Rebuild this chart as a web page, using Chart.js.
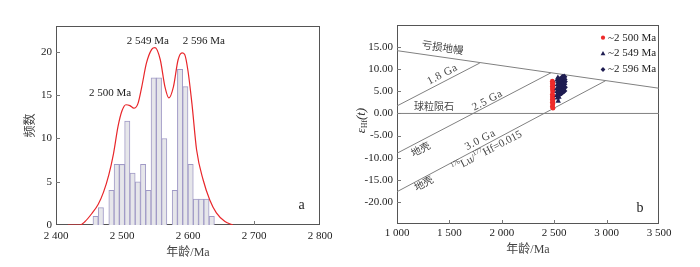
<!DOCTYPE html>
<html lang="zh">
<head>
<meta charset="UTF-8" />
<title>锆石U-Pb年龄与Hf同位素</title>
<script src="https://cdn.jsdelivr.net/npm/chart.js@4"></script>
<style>
  * { margin: 0; padding: 0; box-sizing: border-box; }
  body { width: 700px; height: 267px; background: #fff; overflow: hidden; position: relative; }
  .panel { position: absolute; top: 0; width: 350px; height: 267px; }
  #left { left: 0; }
  #right { left: 350px; }
</style>
</head>
<body>
<div class="panel" id="left"><canvas id="ageHist"></canvas></div>
<div class="panel" id="right"><canvas id="hfPlot"></canvas></div>
<script>
// ---------- panel a : age histogram + density curve ----------
const binCenters = [2460, 2468, 2476, 2484, 2492, 2500, 2508, 2516, 2524, 2532, 2540, 2548,
                    2556, 2564, 2572, 2580, 2588, 2596, 2604, 2612, 2620, 2628, 2636];
const binCounts  = [1, 2, 0, 4, 7, 7, 12, 6, 5, 7, 4, 17,
                    17, 10, 0, 4, 18, 16, 7, 3, 3, 3, 1];
const kdeAges = [2418, 2436, 2444, 2454, 2464, 2472, 2480, 2487, 2494, 2500, 2506, 2512, 2518,
                 2524, 2530, 2537, 2545, 2550, 2558, 2565, 2571, 2578, 2585, 2591, 2595, 2600,
                 2606, 2613, 2623, 2633, 2643, 2656, 2668];
const kdeFreq = [0, 0, 0.4, 1.3, 2.4, 3.8, 5.8, 8.2, 11.4, 13.2, 13.9, 13.8, 13.5,
                 14.0, 16.0, 18.7, 20.3, 20.5, 19.1, 16.0, 14.7, 16.0, 19.1, 19.9, 19.7, 17.8,
                 14.0, 8.7, 5.2, 2.9, 1.4, 0.4, 0];
const ageTicks  = [2400, 2500, 2600, 2700, 2800];
const freqTicks = [0, 5, 10, 15, 20];

// ---------- panel b : eHf(t) vs age ----------
const grp2500Age = [2482, 2488, 2482, 2488, 2482, 2488, 2482, 2488, 2485, 2482, 2488, 2482,
                    2488, 2482, 2488, 2482, 2488, 2485, 2482, 2488];
const grp2500Eps = [7.3, 7.0, 6.7, 6.4, 6.1, 5.8, 5.5, 5.2, 4.9, 4.3, 4.0, 3.7,
                    3.4, 3.1, 2.8, 2.5, 2.2, 1.9, 1.5, 1.2];
const grp2549Age = [2538, 2530, 2545, 2527, 2550, 2535, 2528, 2548, 2525, 2540, 2552, 2530,
                    2545, 2535, 2528, 2550, 2535];
const grp2549Eps = [2.8, 3.5, 3.7, 4.1, 4.3, 4.6, 5.0, 5.2, 5.6, 5.9, 6.2, 6.5,
                    6.8, 7.2, 7.6, 7.7, 8.1];
const grp2596Age = [2560, 2578, 2595, 2568, 2588, 2600, 2560, 2580, 2595, 2570, 2590, 2600,
                    2565, 2582, 2597, 2575, 2590, 2578, 2595];
const grp2596Eps = [4.5, 4.8, 5.1, 5.4, 5.6, 5.9, 6.1, 6.3, 6.6, 6.8, 7.0, 7.2,
                    7.4, 7.5, 7.7, 7.9, 8.0, 8.2, 8.3];
const mantleAge = [1000, 3500];   const mantleEps = [14.2, 5.7];
const chondAge  = [1000, 3500];   const chondEps  = [0, 0];
const crust18Age = [1000, 1790];  const crust18Eps = [1.7, 11.4];
const crust25Age = [1000, 2470];  const crust25Eps = [-9.0, 9.2];
const crust30Age = [1000, 2990];  const crust30Eps = [-17.7, 7.4];
const hfAgeTicks = [1000, 1500, 2000, 2500, 3000, 3500];
const epsTicks   = [-20, -15, -10, -5, 0, 5, 10, 15];

const SERIF = '"Liberation Serif", "Noto Sans CJK SC", serif';
const pts = (xs, ys) => xs.map((x, i) => ({ x: x, y: ys[i] }));
const spaced = v => String(v).replace(/\B(?=(\d{3})+(?!\d))/g, ' ');

// box around the plot + short inward tick marks
const frameTicks = {
    id: 'frameTicks',
    beforeDatasetsDraw(chart) {
        const { ctx, chartArea: a, scales } = chart;
        ctx.save();
        ctx.strokeStyle = '#555';
        ctx.lineWidth = 1;
        ctx.strokeRect(Math.round(a.left) + 0.5, Math.round(a.top) + 0.5,
                       Math.round(a.width) - 1, Math.round(a.height) - 1);
        ctx.strokeStyle = '#777';
        ctx.beginPath();
        scales.x.ticks.forEach(t => {
            const px = Math.round(scales.x.getPixelForValue(t.value)) + 0.5;
            if (px < a.left + 2 || px > a.right - 2) return;
            ctx.moveTo(px, a.bottom);
            ctx.lineTo(px, a.bottom - 4);
        });
        scales.y.ticks.forEach(t => {
            const py = Math.round(scales.y.getPixelForValue(t.value)) + 0.5;
            if (py < a.top + 2 || py > a.bottom - 2) return;
            ctx.moveTo(a.left, py);
            ctx.lineTo(a.left + 4, py);
        });
        ctx.stroke();
        ctx.restore();
    }
};

function drawRich(ctx, parts, x, y, angle, color) {
    ctx.save();
    ctx.translate(x, y);
    ctx.rotate(angle || 0);
    ctx.fillStyle = color || '#222';
    ctx.textBaseline = 'middle';
    ctx.textAlign = 'left';
    let total = 0;
    parts.forEach(p => {
        ctx.font = p.font;
        ctx.letterSpacing = p.ls || '0px';
        p.w = ctx.measureText(p.t).width;
        total += p.w;
    });
    let cx = -total / 2;
    parts.forEach(p => {
        ctx.font = p.font;
        ctx.letterSpacing = p.ls || '0px';
        ctx.fillText(p.t, cx, p.dy || 0);
        cx += p.w;
    });
    ctx.restore();
}

function lineAngle(chart, xs, ys) {
    const sx = chart.scales.x, sy = chart.scales.y;
    return Math.atan2(sy.getPixelForValue(ys[1]) - sy.getPixelForValue(ys[0]),
                      sx.getPixelForValue(xs[1]) - sx.getPixelForValue(xs[0]));
}

const notesA = {
    id: 'notesA',
    afterDatasetsDraw(chart) {
        const { ctx, scales: { x, y } } = chart;
        const f = '11px ' + SERIF;
        drawRich(ctx, [{ t: '2 500 Ma', font: f }], x.getPixelForValue(2482), y.getPixelForValue(15.2));
        drawRich(ctx, [{ t: '2 549 Ma', font: f }], x.getPixelForValue(2539), y.getPixelForValue(21.3));
        drawRich(ctx, [{ t: '2 596 Ma', font: f }], x.getPixelForValue(2624), y.getPixelForValue(21.3));
        drawRich(ctx, [{ t: 'a', font: '14px ' + SERIF }], x.getPixelForValue(2772), y.getPixelForValue(2.3));
    }
};

const notesB = {
    id: 'notesB',
    afterDatasetsDraw(chart) {
        const { ctx, chartArea: a, scales: { x, y } } = chart;
        const gray = '#444';
        const crustA = lineAngle(chart, crust25Age, crust25Eps);
        const mantleA = lineAngle(chart, mantleAge, mantleEps);
        const at = (ax, ay) => [x.getPixelForValue(ax), y.getPixelForValue(ay)];
        let p;
        p = at(1434, 14.7); drawRich(ctx, [{ t: '亏损地幔', font: '10.5px ' + SERIF }], p[0], p[1], mantleA, gray);
        p = at(1434, 8.8);  drawRich(ctx, [{ t: '1.8 Ga', font: '11px ' + SERIF, ls: '0.6px' }], p[0], p[1], crustA, gray);
        p = at(1353, 1.3);  drawRich(ctx, [{ t: '球粒陨石', font: '10px ' + SERIF }], p[0], p[1], 0, gray);
        p = at(1864, 2.9);  drawRich(ctx, [{ t: '2.5 Ga', font: '11px ' + SERIF, ls: '0.6px' }], p[0], p[1], crustA, gray);
        p = at(1229, -8.3); drawRich(ctx, [{ t: '地壳', font: '10px ' + SERIF }], p[0], p[1], crustA, gray);
        p = at(1795, -6.0); drawRich(ctx, [{ t: '3.0 Ga', font: '11px ' + SERIF, ls: '0.6px' }], p[0], p[1], crustA, gray);
        p = at(1859, -8.6);
        drawRich(ctx, [
            { t: '176', font: '6.5px ' + SERIF, dy: -4 },
            { t: 'Lu/', font: '11px ' + SERIF },
            { t: '177', font: '6.5px ' + SERIF, dy: -4 },
            { t: 'Hf=0.015', font: '11px ' + SERIF }
        ], p[0], p[1], crustA, gray);
        p = at(1258, -16.0); drawRich(ctx, [{ t: '地壳', font: '10px ' + SERIF }], p[0], p[1], crustA, gray);
        p = at(3319, -21.5); drawRich(ctx, [{ t: 'b', font: '14px ' + SERIF }], p[0], p[1], 0, '#222');

        // y-axis title: eHf(t)
        drawRich(ctx, [
            { t: 'ε', font: 'italic 13px ' + SERIF },
            { t: 'Hf', font: '7.5px ' + SERIF, dy: 3 },
            { t: '(t)', font: 'italic 13px ' + SERIF }
        ], 12, (a.top + a.bottom) / 2 - 4, -Math.PI / 2, '#333');

        // legend
        ctx.save();
        chart.data.datasets.forEach(ds => {
            if (!ds.label) return;
            const row = ds.legendRow;
            const mx = a.right - 56, my = a.top + 12.7 + row * 15.9;
            ctx.fillStyle = ds.backgroundColor;
            ctx.beginPath();
            if (ds.pointStyle === 'triangle') {
                ctx.moveTo(mx, my - 2.6); ctx.lineTo(mx + 2.4, my + 1.6); ctx.lineTo(mx - 2.4, my + 1.6);
            } else if (ds.pointStyle === 'rectRot') {
                ctx.moveTo(mx, my - 2.4); ctx.lineTo(mx + 2.4, my); ctx.lineTo(mx, my + 2.4); ctx.lineTo(mx - 2.4, my);
            } else {
                ctx.arc(mx, my, 2.1, 0, Math.PI * 2);
            }
            ctx.fill();
            ctx.fillStyle = '#222';
            ctx.font = '11px ' + SERIF;
            ctx.textBaseline = 'middle';
            ctx.textAlign = 'left';
            ctx.fillText(ds.label, mx + 5, my);
        });
        ctx.restore();
    }
};

const tickFont = { family: SERIF, size: 11 };

new Chart(document.getElementById('ageHist'), {
    type: 'bar',
    data: {
        datasets: [
            {
                type: 'line',
                data: pts(kdeAges, kdeFreq),
                borderColor: '#e8262a',
                borderWidth: 1.2,
                pointRadius: 0,
                cubicInterpolationMode: 'monotone',
                order: 0
            },
            {
                type: 'bar',
                data: pts(binCenters, binCounts),
                backgroundColor: '#e6e6ea',
                borderColor: '#a09ac6',
                borderWidth: 1,
                borderSkipped: 'start',
                barPercentage: 1,
                categoryPercentage: 1,
                order: 1
            }
        ]
    },
    options: {
        responsive: true,
        maintainAspectRatio: false,
        animation: false,
        layout: { padding: { top: 26, right: 30, left: 0, bottom: 0 } },
        plugins: { legend: { display: false }, tooltip: { enabled: false } },
        scales: {
            x: {
                type: 'linear',
                min: 2400,
                max: 2800,
                offset: false,
                grid: { display: false, drawTicks: false },
                border: { display: false },
                afterBuildTicks: s => { s.ticks = ageTicks.map(v => ({ value: v })); },
                afterFit: s => { s.height = 42; },
                ticks: { padding: 5, color: '#222', font: tickFont, maxRotation: 0, autoSkip: false, callback: v => spaced(v) },
                title: { display: true, text: '年龄/Ma', color: '#444', font: { family: SERIF, size: 12 }, padding: { top: 0, bottom: 7 } }
            },
            y: {
                min: 0,
                max: 23,
                grid: { display: false, drawTicks: false },
                border: { display: false },
                afterBuildTicks: s => { s.ticks = freqTicks.map(v => ({ value: v })); },
                afterFit: s => { s.width = 56; },
                ticks: { padding: 4, color: '#222', font: tickFont },
                title: { display: true, text: '频数', color: '#444', font: { family: SERIF, size: 12 }, padding: { top: 24, bottom: 0 } }
            }
        }
    },
    plugins: [frameTicks, notesA]
});

const refLine = (xs, ys) => ({
    data: pts(xs, ys),
    showLine: true,
    borderColor: '#808080',
    borderWidth: 1,
    pointRadius: 0,
    order: 2
});

new Chart(document.getElementById('hfPlot'), {
    type: 'scatter',
    data: {
        datasets: [
            { label: '~2 500 Ma', legendRow: 0, data: pts(grp2500Age, grp2500Eps), pointStyle: 'circle',
              backgroundColor: '#ee2a2a', borderWidth: 0, pointRadius: 2.4, order: 1 },
            { label: '~2 549 Ma', legendRow: 1, data: pts(grp2549Age, grp2549Eps), pointStyle: 'triangle',
              backgroundColor: '#1f1d52', borderWidth: 0, pointRadius: 3.2, order: 0 },
            { label: '~2 596 Ma', legendRow: 2, data: pts(grp2596Age, grp2596Eps), pointStyle: 'rectRot',
              backgroundColor: '#1f1d52', borderWidth: 0, pointRadius: 3.2, order: 0 },
            refLine(mantleAge, mantleEps),
            refLine(chondAge, chondEps),
            refLine(crust18Age, crust18Eps),
            refLine(crust25Age, crust25Eps),
            refLine(crust30Age, crust30Eps)
        ]
    },
    options: {
        responsive: true,
        maintainAspectRatio: false,
        animation: false,
        layout: { padding: { top: 25, right: 41, left: 0, bottom: 0 } },
        plugins: { legend: { display: false }, tooltip: { enabled: false } },
        scales: {
            x: {
                type: 'linear',
                min: 1000,
                max: 3500,
                grid: { display: false, drawTicks: false },
                border: { display: false },
                afterBuildTicks: s => { s.ticks = hfAgeTicks.map(v => ({ value: v })); },
                afterFit: s => { s.height = 43; },
                ticks: { padding: 3, color: '#222', font: tickFont, maxRotation: 0, autoSkip: false, callback: v => spaced(v) },
                title: { display: true, text: '年龄/Ma', color: '#444', font: { family: SERIF, size: 12 }, padding: { top: 0, bottom: 10 } }
            },
            y: {
                min: -25,
                max: 20,
                grid: { display: false, drawTicks: false },
                border: { display: false },
                afterBuildTicks: s => { s.ticks = epsTicks.map(v => ({ value: v })); },
                afterFit: s => { s.width = 47; },
                ticks: { padding: 4, color: '#222', font: tickFont, callback: v => v.toFixed(2) }
            }
        }
    },
    plugins: [frameTicks, notesB]
});
</script>
</body>
</html>
